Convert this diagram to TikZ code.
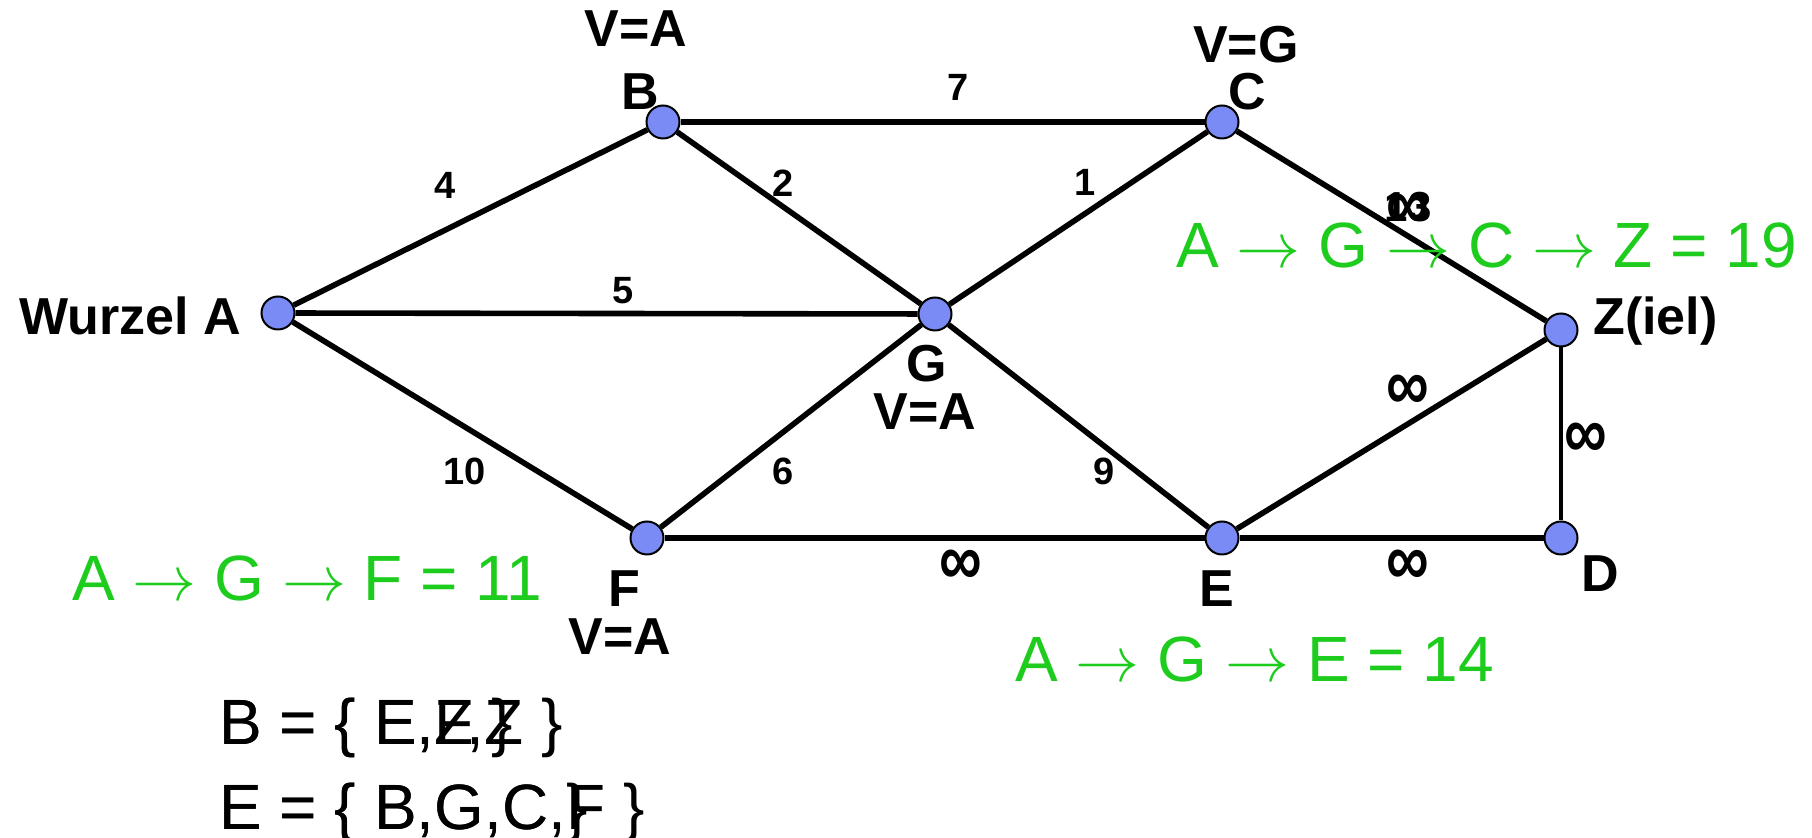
\RequirePackage{fix-cm}
\documentclass[tikz,border=0pt]{standalone}
\usepackage{fontspec}
\usepackage{graphicx}
\setmainfont{Liberation Sans}
\definecolor{nodefill}{RGB}{122,139,245}
\definecolor{pathgreen}{RGB}{30,204,30}
\pgfdeclarelayer{bg}
\pgfsetlayers{bg,main}
\newcommand{\myarr}{$\rightarrow$}
\newcommand{\myinf}{\scalebox{1.15}[1.45]{∞}}
\tikzset{
  vertex/.style={circle, draw=black, line width=1pt, fill=nodefill, minimum size=16.5pt, inner sep=0pt},
  edgeline/.style={line width=2.8pt},
  lbl/.style={font=\fontsize{26}{30}\selectfont\bfseries, inner sep=0pt, anchor=base},
  wt/.style={font=\fontsize{19}{22}\selectfont\bfseries, inner sep=0pt},
  inf/.style={font=\fontsize{26}{30}\selectfont\bfseries, inner sep=0pt},
  pathtxt/.style={font=\fontsize{32}{36}\selectfont, text=pathgreen, inner sep=0pt, anchor=base west},
  settxt/.style={font=\fontsize{32}{36}\selectfont, inner sep=0pt, anchor=base west}
}
\begin{document}
\begin{tikzpicture}[x=0.5pt,y=-0.5pt]
\useasboundingbox (0,0) rectangle (1812,838);
% vertices
\node[vertex] (A) at (278,313) {};
\node[vertex] (B) at (663,122) {};
\node[vertex] (C) at (1222,122) {};
\node[vertex] (G) at (935,314) {};
\node[vertex] (Z) at (1561,330) {};
\node[vertex] (F) at (647,538) {};
\node[vertex] (E) at (1222,538) {};
\node[vertex] (D) at (1561,538) {};
% edges
\begin{pgfonlayer}{bg}
\draw[edgeline] (A) -- (B);
\draw[edgeline] (A) -- (G);
\draw[edgeline] (A) -- (F);
\draw[edgeline] (B) -- (C);
\draw[edgeline] (B) -- (G);
\draw[edgeline] (C) -- (G);
\draw[edgeline] (C) -- (Z);
\draw[edgeline] (G) -- (F);
\draw[edgeline] (G) -- (E);
\draw[edgeline] (F) -- (E);
\draw[edgeline] (E) -- (D);
\draw[edgeline] (E) -- (Z);
\draw[line width=2.2pt] (Z) -- (D);
\end{pgfonlayer}
% vertex labels
\node[lbl, anchor=base east] (lA) at (241,335) {Wurzel A};
\node[lbl] (vB) at (636,47) {V=A};
\node[lbl] (lB) at (640,110) {B};
\node[lbl] (vC) at (1246,63) {V=G};
\node[lbl] (lC) at (1247,110) {C};
\node[lbl, anchor=base west] (lZ) at (1593,335) {Z(iel)};
\node[lbl] (lG) at (927,382) {G};
\node[lbl] (vG) at (925,430) {V=A};
\node[lbl] (lF) at (624,607) {F};
\node[lbl] (vF) at (620,655) {V=A};
\node[lbl] (lE) at (1217,607) {E};
\node[lbl] (lD) at (1600,592) {D};
% weights
\node[wt] (w4) at (445,185) {4};
\node[wt] (w5) at (623,291) {5};
\node[wt] (w7) at (958,87) {7};
\node[wt] (w2) at (783,183) {2};
\node[wt] (w1) at (1085,182) {1};
\node[wt] (w10) at (465,471) {10};
\node[wt] (w6) at (783,471) {6};
\node[wt] (w9) at (1104,471) {9};
\node[wt, font=\fontsize{21}{24}\selectfont\bfseries] (w13) at (1408,207) {13};
\node[inf] (iCZ) at (1408,212) {\myinf};
\node[inf] (iFE) at (961,568) {\myinf};
\node[inf] (iED) at (1408,568) {\myinf};
\node[inf] (iEZ) at (1408,393) {\myinf};
\node[inf] (iZD) at (1586,441) {\myinf};
% green paths
\node[pathtxt] (pF) at (72,601) {A \myarr{} G \myarr{} F = 11};
\node[pathtxt] (pE) at (1015,682) {A \myarr{} G \myarr{} E = 14};
\node[pathtxt] (pZ) at (1176,268) {A \myarr{} G \myarr{} C \myarr{} Z = 19};
% sets
\node[settxt] (sB1) at (219,745) {B = \{ E,F,Z \}};
\node[settxt] (sB2) at (219,745) {B = \{ E,Z \}};
\node[settxt] (sE1) at (219,830) {E = \{ B,G,C,F \}};
\node[settxt] (sE2) at (219,830) {E = \{ B,G,C \}};
\end{tikzpicture}
\end{document}
